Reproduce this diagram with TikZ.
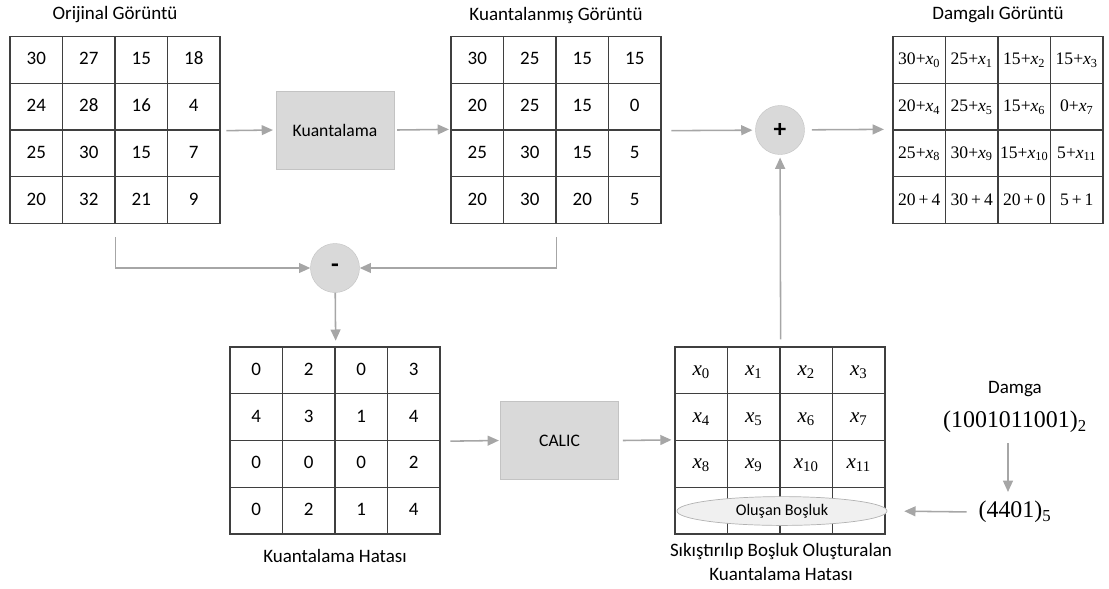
\documentclass[tikz,border=0pt]{standalone}
\usepackage{fontspec}
\setmainfont{Carlito}
\newfontfamily\tnr{Liberation Serif}
\usetikzlibrary{arrows.meta,shapes.geometric,positioning}
\definecolor{boxgray}{HTML}{D9D9D9}
\definecolor{flowgray}{HTML}{A6A6A6}
\definecolor{gridgray}{HTML}{3F3F3F}
\newcommand{\xs}[1]{\textit{x}\textsubscript{#1}}
% 4x4 grid of cells: name, left, top, extra style, entries
\newcommand{\cellgrid}[5]{%
  \foreach \v [count=\i from 0] in {#5} {
    \pgfmathtruncatemacro{\cc}{mod(\i,4)}
    \pgfmathtruncatemacro{\rr}{div(\i,4)}
    \node[cell,#4] (#1-\i) at ({#2+(\cc+0.5)*52.5},{#3+(\rr+0.5)*46.75}) {\v};
  }}

\begin{document}
\begin{tikzpicture}[x=0.025cm, y=-0.025cm, font=\fontsize{13.5}{16}\selectfont,
  cell/.style={draw=gridgray, line width=0.9pt, minimum width=1.3125cm, minimum height=1.16875cm, inner sep=0pt, text height=9pt, text depth=2pt},
  procbox/.style={fill=boxgray, draw=boxgray!90!black, line width=0.3pt, minimum width=2.95cm, minimum height=1.95cm, font=\fontsize{12.5}{15}\selectfont},
  opcircle/.style={circle, fill=boxgray, draw=boxgray!90!black, line width=0.3pt, minimum size=1.225cm, inner sep=0pt, font=\fontsize{18}{19}\selectfont\bfseries},
  flow/.style={draw=flowgray, line width=1.1pt, -{Triangle[length=8pt,width=7pt]}},
  tvals/.style={font=\tnr\fontsize{12.5}{15}\selectfont},
  xvals/.style={font=\tnr\fontsize{15}{17}\selectfont}]
	\useasboundingbox (0,0) rectangle (1109,588);
	\cellgrid{orj}{10}{36.5}{}{30,27,15,18,24,28,16,4,25,30,15,7,20,32,21,9}
	\cellgrid{kgor}{451}{36.5}{}{30,25,15,15,20,25,15,0,25,30,15,5,20,30,20,5}
	\cellgrid{damg}{893}{36.5}{tvals}{{30+\xs{0}},{25+\xs{1}},{15+\xs{2}},{15+\xs{3}},{20+\xs{4}},{25+\xs{5}},{15+\xs{6}},{0+\xs{7}},{25+\xs{8}},{30+\xs{9}},{15+\xs{10}},{5+\xs{11}},{20\,+\,4},{30\,+\,4},{20\,+\,0},{5\,+\,1}}
	\cellgrid{hata}{230}{347}{}{0,2,0,3,4,3,1,4,0,0,0,2,0,2,1,4}
	\cellgrid{sik}{675}{347}{xvals}{{\xs{0}},{\xs{1}},{\xs{2}},{\xs{3}},{\xs{4}},{\xs{5}},{\xs{6}},{\xs{7}},{\xs{8}},{\xs{9}},{\xs{10}},{\xs{11}},{},{},{},{}}
	\node (t-orj) at (115,15) {Orijinal Görüntü};
	\node (t-kgor) at (556,15) {Kuantalanmış Görüntü};
	\node (t-damg) at (998,15) {Damgalı Görüntü};
	\node (t-hata) at (335,556) {Kuantalama Hatası};
	\node[align=center, font=\fontsize{13.5}{16.5}\selectfont] (t-sik) at (781,562) {Sıkıştırılıp Boşluk Oluşturalan\\Kuantalama Hatası};
	\node[procbox] (kuant) at (335,130) {Kuantalama};
	\node[procbox] (calic) at (559.5,440.5) {CALIC};
	\node[opcircle] (plus) at (780,130) {+};
	\node[opcircle] (minus) at (335,268) {-};
	\node[ellipse, draw=gray!60, fill=gray!12, line width=0.5pt, minimum width=5.25cm, minimum height=0.72cm, inner sep=0pt, font=\fontsize{11.5}{13}\selectfont] (bosluk) at (782,511) {Oluşan Boşluk};
	\node (damga) at (1015,389) {Damga};
	\node[font=\tnr\fontsize{17}{19}\selectfont] (bin) at (1015,422) {(1001011001)\textsubscript{2}};
	\node[font=\tnr\fontsize{17}{19}\selectfont] (b5) at (1015,512) {(4401)\textsubscript{5}};
	\draw[flow] ([xshift=4pt]orj-7.south east) -- ([xshift=-2pt]kuant.west);
	\draw[flow] ([xshift=2pt]kuant.east) -- ([xshift=-1pt]kgor-8.north west);
	\draw[flow, shorten >=2pt] ([xshift=7pt]kgor-7.south east) -- (plus);
	\draw[flow, shorten <=5pt] (plus) -- ([xshift=-6pt]damg-8.north west);
	\draw[flow] ([yshift=-9pt]orj-13.south east) |- (minus);
	\draw[flow] ([yshift=-9pt]kgor-13.south east) |- (minus);
	\draw[flow] (minus) -- ([yshift=4pt]hata-1.north east);
	\draw[flow] ([xshift=7pt]hata-7.south east) -- ([xshift=-1pt]calic.west);
	\draw[flow] ([xshift=3pt]calic.east) -- ([xshift=-2pt]sik-8.north west);
	\draw[flow, shorten >=2pt] ([yshift=5pt]sik-1.north east) -- (plus);
	\draw[flow] ([xshift=-5pt,yshift=-4pt]bin.south) -- ([xshift=-5pt,yshift=3pt]b5.north);
	\draw[flow, shorten <=5pt, shorten >=12pt] (b5.west) -- (bosluk.east);
\end{tikzpicture}
\end{document}
